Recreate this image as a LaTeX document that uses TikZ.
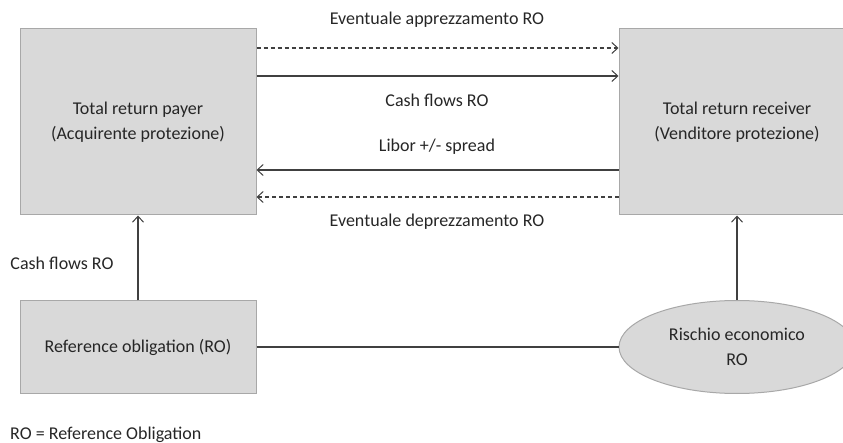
\documentclass[tikz,border=0pt]{standalone}
\usepackage{fontspec}
\setmainfont{Carlito}
\usetikzlibrary{arrows.meta,shapes.geometric}
\definecolor{boxfill}{HTML}{D9D9D9}
\definecolor{boxline}{HTML}{A8A8A8}
\definecolor{arr}{HTML}{404040}
\definecolor{txt}{HTML}{262626}
\begin{document}
\begin{tikzpicture}[x=1pt,y=-1pt,
  font=\fontsize{18}{25.5}\selectfont,
  boxnode/.style={draw=boxline,line width=1pt,fill=boxfill,minimum width=236pt,inner sep=0pt,align=center,text=txt},
  ellnode/.style={ellipse,draw=boxline,line width=1pt,fill=boxfill,minimum width=236pt,minimum height=93pt,inner sep=0pt,align=center,text=txt},
  conn/.style={draw=arr,line width=1.1pt},
  tip/.style={-{Straight Barb[length=6pt,width=11pt,line width=1pt]}},
  dashline/.style={dash pattern=on 4pt off 3pt},
  lbl/.style={text=txt,inner sep=0pt}]
\useasboundingbox (0,0) rectangle (843,443);
\node[boxnode,minimum height=186pt] (payer) at (138,122) {Total return payer\\(Acquirente protezione)};
\node[boxnode,minimum height=186pt] (recv) at (737,122) {Total return receiver\\(Venditore protezione)};
\node[boxnode,minimum height=92pt] (ref) at (138,347) {Reference obligation (RO)};
\node[ellnode] (risk) at (737,347) {Rischio economico\\RO};
\draw[conn,tip,dashline] (payer.east |- 0,48) -- (recv.west |- 0,48);
\draw[conn,tip] (payer.east |- 0,76) -- (recv.west |- 0,76);
\draw[conn,tip] (recv.west |- 0,170) -- (payer.east |- 0,170);
\draw[conn,tip,dashline] (recv.west |- 0,197) -- (payer.east |- 0,197);
\node[lbl] (l1) at (437,20) {Eventuale apprezzamento RO};
\node[lbl] (l2) at (437,100) {Cash flows RO};
\node[lbl] (l3) at (437,147) {Libor +/- spread};
\node[lbl] (l4) at (437,222) {Eventuale deprezzamento RO};
\draw[conn,tip] (ref.north) -- (payer.south);
\draw[conn,tip] (risk.north) -- (recv.south);
\draw[conn] (ref.east) -- (risk.west);
\node[lbl] (l5) at (62,263) {Cash flows RO};
\node[lbl,anchor=west] (l6) at (10,435) {RO = Reference Obligation};
\end{tikzpicture}
\end{document}
